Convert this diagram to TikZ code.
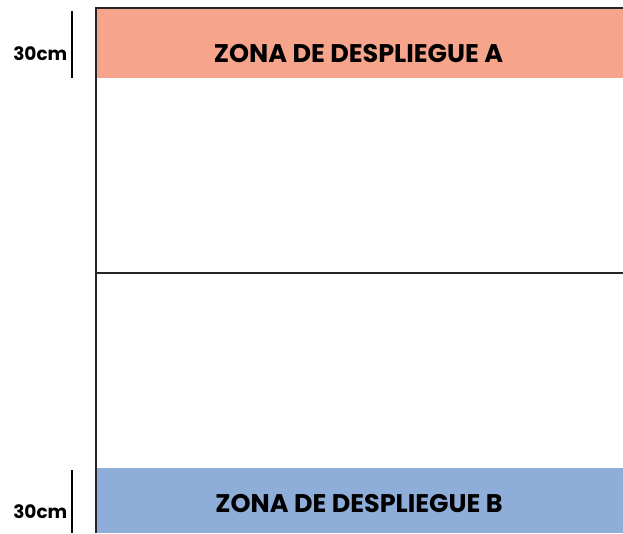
\documentclass[tikz,border=0pt]{standalone}
\usepackage{fontspec}
\setmainfont{Poppins}
\definecolor{zoneAcol}{HTML}{F7A48C}
\definecolor{zoneBcol}{HTML}{8EADD9}
\tikzset{
  boardline/.style={line width=1.6pt, black!85},
  marker/.style={line width=1.3pt, black},
  zonetext/.style={font=\bfseries\fontsize{25.5}{28}\selectfont, inner sep=0pt},
  sizetext/.style={font=\bfseries\fontsize{18.5}{20}\selectfont, inner sep=0pt, anchor=east}
}
\begin{document}
\begin{tikzpicture}[x=1pt,y=-1pt]
\useasboundingbox (0,0) rectangle (623,533);
\fill[zoneAcol] (96,8) rectangle (623,78);
\fill[zoneBcol] (96,468) rectangle (623,533);
\coordinate (tr) at (623,8);
\coordinate (tl) at (96,8);
\coordinate (bl) at (96,533);
\coordinate (ml) at (96,273);
\coordinate (mr) at (623,273);
\draw[boardline] (tr) -- (tl) -- (bl);
\draw[boardline] (ml) -- (mr);
\coordinate (m1a) at (72,11);
\coordinate (m1b) at (72,78);
\coordinate (m2a) at (72,470);
\coordinate (m2b) at (72,533);
\draw[marker] (m1a) -- (m1b);
\draw[marker] (m2a) -- (m2b);
\node[zonetext] (za) at (358.5,54) {ZONA DE DESPLIEGUE A};
\node[zonetext] (zb) at (359,503.5) {ZONA DE DESPLIEGUE B};
\node[sizetext] (sa) at (67.5,54) {30cm};
\node[sizetext] (sb) at (67.5,512) {30cm};
\end{tikzpicture}
\end{document}
